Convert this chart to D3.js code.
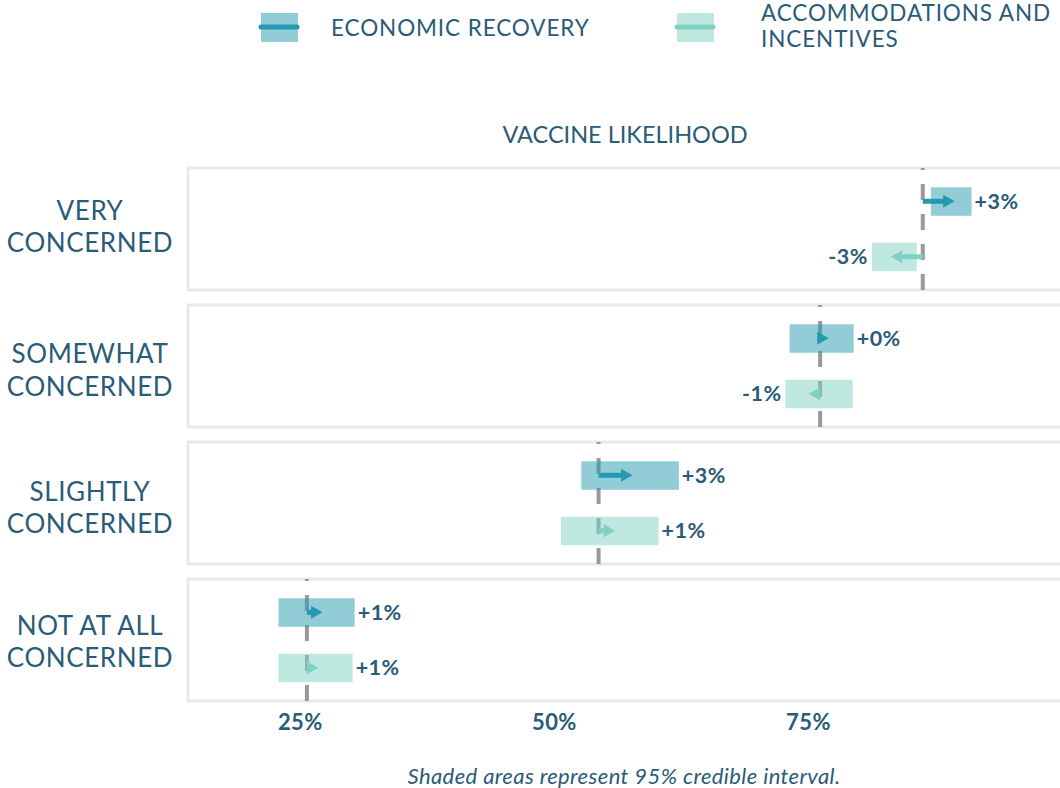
<!DOCTYPE html>
<html>
<head>
<meta charset="utf-8">
<script src="https://cdn.jsdelivr.net/npm/d3@7"></script>
<style>
    body { margin: 0; background: #fff; }
    svg text { font-family: Lato, 'Open Sans', sans-serif; fill: #2a5b78; }
</style>
</head>
<body>
<div id="chart"></div>
<script>

// Data (vaccine likelihood, %)
var categoryLines = [['VERY', 'CONCERNED'], ['SOMEWHAT', 'CONCERNED'], ['SLIGHTLY', 'CONCERNED'], ['NOT AT ALL', 'CONCERNED']];
var baselines   = [86.3, 76.2, 54.4, 25.7];
var econLow     = [87.1, 73.2, 52.7, 22.9];
var econHigh    = [91.1, 79.5, 62.3, 30.4];
var econChange  = [2.6, 0.3, 2.8, 1.0];
var accomLow    = [81.3, 72.8, 50.7, 22.9];
var accomHigh   = [85.7, 79.4, 60.3, 30.2];
var accomChange = [-2.6, -0.6, 1.1, 0.6];
var tickValues  = [25, 50, 75];
var legendLines = [['ECONOMIC RECOVERY'], ['ACCOMMODATIONS AND', 'INCENTIVES']];

var colors = { econ: '#2599b0', accom: '#7fd1c4' };

var width = 1060, height = 788;
var panelTop = 168, panelHeight = 122, panelGap = 15;
// small vertical nudges of the category labels, as in the original
var labelNudge = [-6.5, 0, 0.5, -2.5];

var svg = d3.select('#chart').append('svg')
    .attr('width', width)
    .attr('height', height);

//  Scales
var x = d3.scaleLinear().domain([14, 100]).range([188, 1062]);
var y = d3.scaleBand()
    .domain(d3.range(categoryLines.length))
    .range([panelTop, panelTop + categoryLines.length * (panelHeight + panelGap)]);
var row = d3.scalePoint().domain(['econ', 'accom']).range([0, panelHeight]).padding(0.6);
// plain hyphen for negatives, like the original
var fmt = function(v){ return d3.format('+.0f')(v).replace('\u2212', '-'); };

// one row per series per category
var rows = [];
categoryLines.forEach(function(c, i){
    rows.push({ cat: i, key: 'econ', lo: econLow[i], hi: econHigh[i], base: baselines[i], change: econChange[i] });
    rows.push({ cat: i, key: 'accom', lo: accomLow[i], hi: accomHigh[i], base: baselines[i], change: accomChange[i] });
});

// Panels
var panel = svg.selectAll('.panel').data(categoryLines).enter().append('g')
    .attr('class', 'panel')
    .attr('transform', function(d, i){ return 'translate(0,' + y(i) + ')'; });

panel.append('rect')
    .attr('x', x(14))
    .attr('y', 0)
    .attr('width', x(100) - x(14))
    .attr('height', panelHeight)
    .attr('fill', '#fff')
    .attr('stroke', '#e9e9e9')
    .attr('stroke-width', 3);

// category labels
panel.append('text')
    .attr('text-anchor', 'middle')
    .attr('transform', function(d, i){ return 'translate(90,' + (panelHeight / 2 + labelNudge[i]) + ')'; })
    .style('font-size', '26px')
    .style('letter-spacing', '0.6px')
    .selectAll('tspan').data(function(d){ return d; }).enter().append('tspan')
    .attr('x', 0)
    .attr('y', function(d, i){ return i === 0 ? -3 : 29.5; })
    .text(function(d){ return d; });

// dashed baseline
panel.append('line')
    .attr('x1', function(d, i){ return x(baselines[i]); })
    .attr('x2', function(d, i){ return x(baselines[i]); })
    .attr('y1', 0)
    .attr('y2', panelHeight)
    .attr('stroke', '#999')
    .attr('stroke-width', 4)
    .attr('stroke-dasharray', '16,14')
    .attr('stroke-dashoffset', 14);

// Credible interval boxes, arrows and labels
var r = svg.selectAll('.row').data(rows).enter().append('g')
    .attr('class', 'row')
    .attr('transform', function(d){ return 'translate(0,' + (y(d.cat) + row(d.key)) + ')'; });

r.append('rect')
    .attr('x', function(d){ return x(d.lo); })
    .attr('y', -14)
    .attr('width', function(d){ return x(d.hi) - x(d.lo); })
    .attr('height', 28.5)
    .attr('fill', function(d){ return colors[d.key]; })
    .attr('fill-opacity', 0.5);

r.append('line')
    .attr('x1', function(d){ return x(d.base); })
    .attr('x2', function(d){ return x(d.base + d.change); })
    .attr('stroke', function(d){ return colors[d.key]; })
    .attr('stroke-width', 5);

r.append('path')
    .attr('d', function(d){
        var e = x(d.base + d.change), dir = d.change < 0 ? -1 : 1;
        return 'M' + (e - 6 * dir) + ',-6.5L' + (e + 5.5 * dir) + ',0L' + (e - 6 * dir) + ',6.5Z';
    })
    .attr('fill', function(d){ return colors[d.key]; });

r.append('text')
    .attr('x', function(d){ return d.change < 0 ? x(d.lo) - 4 : x(d.hi) + 3; })
    .attr('dy', '0.36em')
    .attr('text-anchor', function(d){ return d.change < 0 ? 'end' : 'start'; })
    .style('font-size', '21.5px')
    .style('letter-spacing', '0.5px')
    .style('font-weight', 'bold')
    .text(function(d){ return fmt(d.change) + '%'; });

// x axis
var axis = svg.append('g')
    .attr('transform', 'translate(0,' + 714 + ')')
    .call(d3.axisBottom(x).tickValues(tickValues).tickSize(0).tickFormat(function(d){ return d + '%'; }));
axis.select('.domain').remove();
axis.selectAll('text')
    .attr('y', 0)
    .attr('dy', '0.71em')
    .style('font-family', 'Lato, sans-serif')
    .style('font-size', '22px')
    .style('letter-spacing', '0.4px')
    .style('font-weight', 'bold')
    .style('fill', '#2a5b78');

// axis title
svg.append('text')
    .attr('x', 625)
    .attr('y', 143)
    .attr('text-anchor', 'middle')
    .style('font-size', '23.5px')
    .text('VACCINE LIKELIHOOD');

// caption
svg.append('text')
    .attr('x', 624)
    .attr('y', 784)
    .attr('text-anchor', 'middle')
    .style('font-size', '22px')
    .style('letter-spacing', '0.4px')
    .style('font-style', 'italic')
    .text('Shaded areas represent 95% credible interval.');

// Legend
var legend = svg.selectAll('.legend').data(['econ', 'accom']).enter().append('g')
    .attr('class', 'legend')
    .attr('transform', function(d, i){ return 'translate(' + [261, 677][i] + ',13)'; });

legend.append('rect')
    .attr('width', 37)
    .attr('height', 29)
    .attr('fill', function(d){ return colors[d]; })
    .attr('fill-opacity', 0.5);

legend.append('line')
    .attr('x1', 0)
    .attr('x2', 36)
    .attr('y1', 14)
    .attr('y2', 14)
    .attr('stroke', function(d){ return colors[d]; })
    .attr('stroke-width', 5)
    .attr('stroke-linecap', 'round');

legend.append('text')
    .style('font-size', '22.5px')
    .style('letter-spacing', '0.9px')
    .selectAll('tspan').data(function(d, i){ return legendLines[i].map(function(l){ return { text: l, n: legendLines[i].length }; }); })
    .enter().append('tspan')
    .attr('x', function(d){ return d.n > 1 ? 84 : 70; })
    .attr('y', function(d, j){ return d.n > 1 ? (j === 0 ? 7.7 : 34.3) : 23; })
    .text(function(d){ return d.text; });

</script>
</body>
</html>
